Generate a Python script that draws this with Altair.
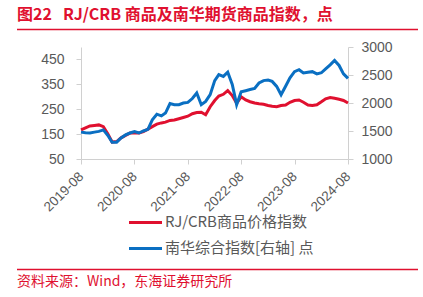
import altair as alt
import pandas as pd

# monthly dates 2019-08 .. 2024-08
dates = [f"{2019 + (7 + i) // 12}/{(7 + i) % 12 + 1:02d}/01" for i in range(61)]

rjcrb = [167, 175, 183, 185, 187, 180, 150, 118, 120, 135,
         145, 154, 154, 154, 160, 170, 180, 190, 195, 198,
         205, 207, 212, 217, 222, 232, 237, 238, 228, 260,
         285, 303, 310, 325, 305, 274, 300, 287, 280, 275,
         272, 270, 265, 262, 260, 265, 267, 278, 285, 287,
         278, 267, 265, 268, 280, 292, 297, 294, 290, 285, 275]

nanhua = [1480, 1470, 1464, 1480, 1493, 1520, 1420, 1300, 1300, 1375,
          1430, 1464, 1490, 1464, 1500, 1530, 1700, 1800, 1770, 1821,
          1990, 1970, 1970, 2000, 2010, 2080, 2179, 1970, 2029, 2150,
          2400, 2506, 2475, 2550, 2330, 1970, 2200, 2220, 2240, 2260,
          2357, 2400, 2410, 2386, 2297, 2148, 2300, 2450, 2560, 2595,
          2536, 2550, 2560, 2520, 2540, 2610, 2680, 2760, 2670, 2520, 2440]

left_ticks = [50, 150, 250, 350, 450]
right_ticks = [1000, 1500, 2000, 2500, 3000]
tick_years = [2019, 2020, 2021, 2022, 2023, 2024]

title_a = "图22"
title_b = "RJ/CRB 商品及南华期货商品指数，点"
legend_labels = ["RJ/CRB商品价格指数", "南华综合指数[右轴] 点"]
source = "资料来源：Wind，东海证券研究所"

RED = "#e0102f"
BLUE = "#0a6fc2"
GRAY = "#595959"
AXIS = "#d0d0d0"
CJK = "Noto Sans CJK SC"

df = pd.DataFrame({"date": dates, "rjcrb": rjcrb, "nanhua": nanhua})
one = pd.DataFrame({"k": [0]})

xenc = alt.X(
    "date:T",
    scale=alt.Scale(domain=[alt.DateTime(year=2019, month=8, date=1),
                            alt.DateTime(year=2024, month=8, date=1)]),
    axis=alt.Axis(
        values=[alt.DateTime(year=y, month=8, date=1) for y in tick_years],
        format="%Y-%m", labelAngle=-45, labelAlign="right", labelBaseline="middle",
        labelPadding=10, tickSize=5, tickColor=AXIS, domainColor=AXIS,
        labelColor=GRAY, labelFont="Liberation Sans", labelFontSize=13.5,
        grid=False, title=None),
)

red_line = alt.Chart(df).mark_line(color=RED, strokeWidth=3).encode(
    x=xenc,
    y=alt.Y("rjcrb:Q", scale=alt.Scale(domain=[50, 500], nice=False, zero=False),
            axis=alt.Axis(values=left_ticks, orient="left", tickSize=5, tickColor=AXIS,
                          domainColor=AXIS, labelColor=GRAY, labelFont="Liberation Sans",
                          labelFontSize=14, labelPadding=12, grid=False, title=None,
                          format="d")),
)

blue_line = alt.Chart(df).mark_line(color=BLUE, strokeWidth=3).encode(
    x=xenc,
    y=alt.Y("nanhua:Q", scale=alt.Scale(domain=[1000, 3000], nice=False, zero=False),
            axis=alt.Axis(values=right_ticks, orient="right", tickSize=5, tickColor=AXIS,
                          domainColor=AXIS, labelColor=GRAY, labelFont="Liberation Sans",
                          labelFontSize=14, labelPadding=8, grid=False, title=None,
                          format="d")),
)

lines = alt.layer(red_line, blue_line).resolve_scale(y="independent")

def txt(s, x, y, size, color, bold=False):
    return alt.Chart(one).mark_text(
        align="left", baseline="middle", font=CJK, fontSize=size, color=color,
        fontWeight="bold" if bold else "normal"
    ).encode(x=alt.value(x), y=alt.value(y), text=alt.value(s))

def rule(x1, x2, y, color, w):
    return alt.Chart(one).mark_rule(color=color, strokeWidth=w).encode(
        x=alt.value(x1), x2=alt.value(x2), y=alt.value(y))

OX, OY = 81, 47

deco = alt.layer(
    txt(title_a, 17 - OX, 15 - OY, 16, RED, True),
    txt(title_b, 63 - OX, 15 - OY, 16, RED, True),
    rule(17 - OX, 418 - OX, 29.5 - OY, RED, 1.5),
    rule(129 - OX, 162 - OX, 222.5 - OY, RED, 3),
    txt(legend_labels[0], 165 - OX, 222 - OY, 15, GRAY),
    rule(129 - OX, 162 - OX, 248.5 - OY, BLUE, 3),
    txt(legend_labels[1], 165 - OX, 248 - OY, 15, GRAY),
    rule(17 - OX, 418 - OX, 269.5 - OY, RED, 1.5),
    txt(source, 17 - OX, 282 - OY, 14, RED),
)

chart = alt.layer(lines, deco).properties(
    width=267, height=112,
    autosize="none",
    padding={"left": OX, "top": OY, "right": 423 - 348, "bottom": 297 - 159},
    background="white",
).configure_view(stroke=None)

chart.save("out.html", embed_options={"renderer": "svg", "actions": False})
